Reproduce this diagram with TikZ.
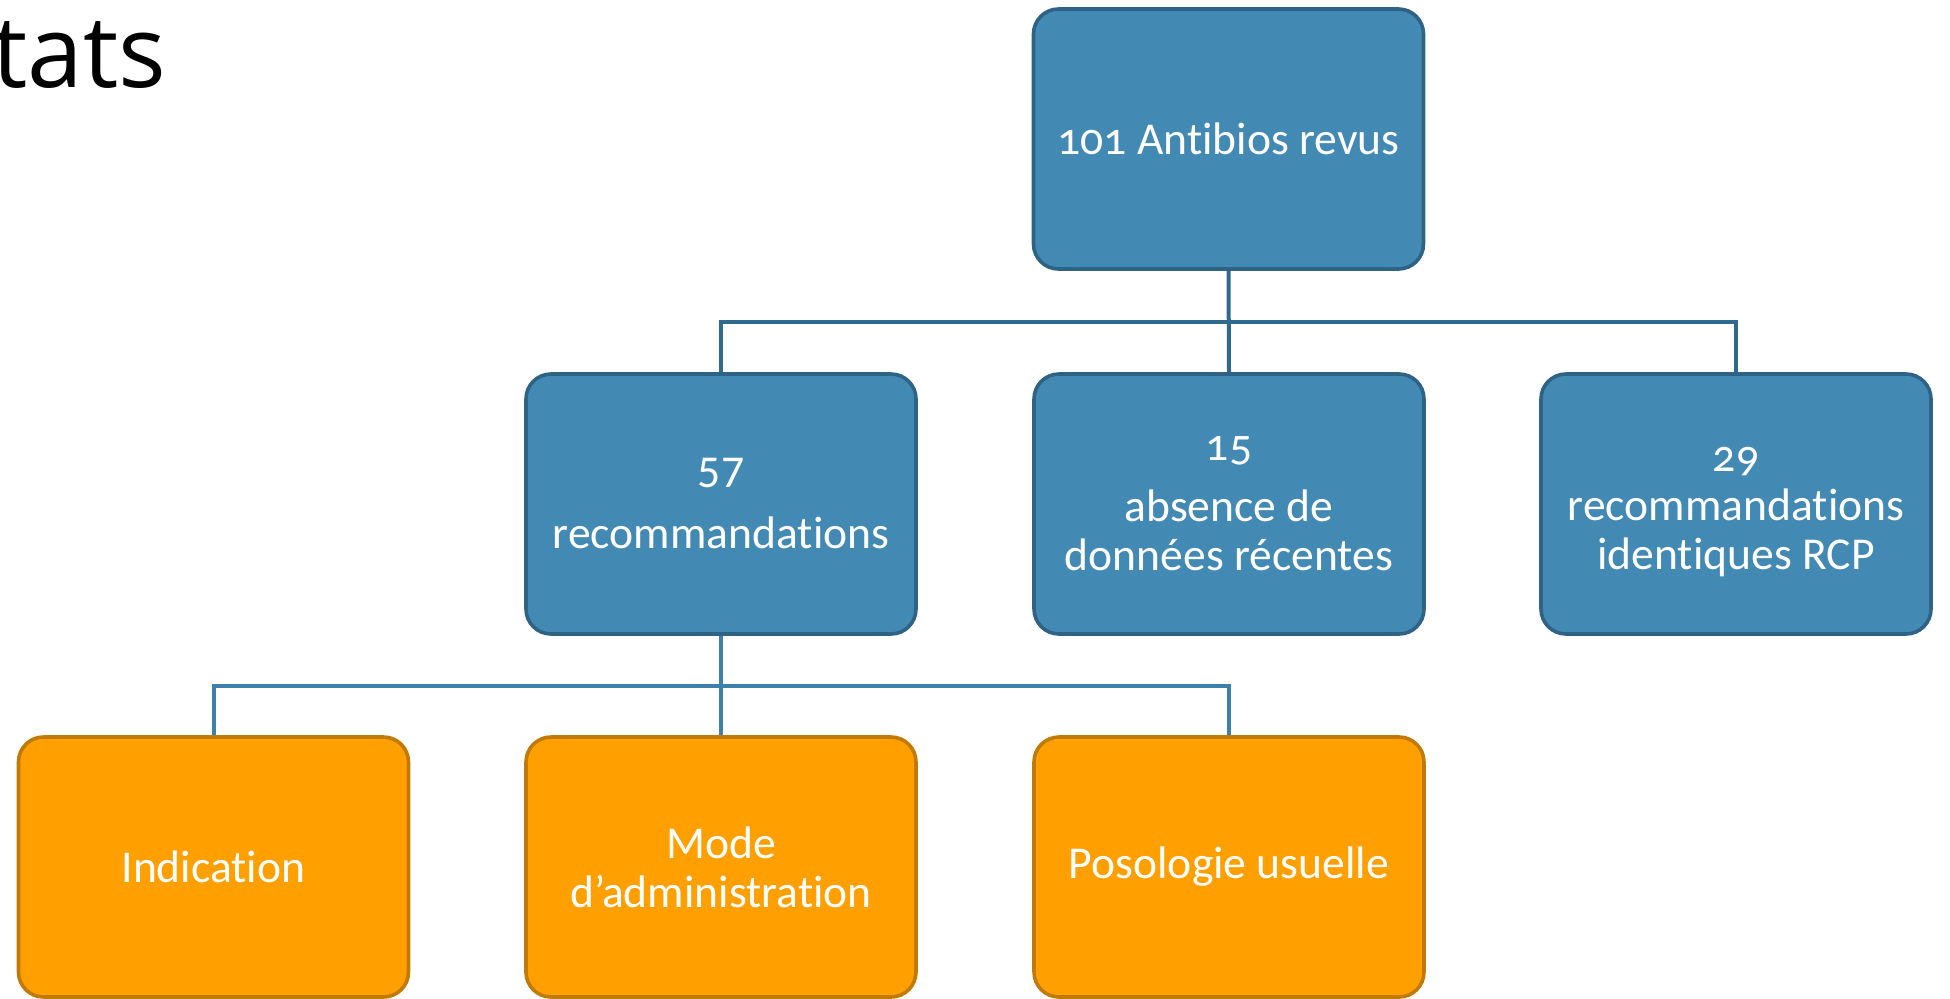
\documentclass[tikz,border=0pt]{standalone}
\usepackage{fontspec}
\setmainfont[Ligatures={NoCommon,NoContextual,NoRare}]{Carlito}
\newfontfamily\onumfont[Numbers=OldStyle,Ligatures={NoCommon,NoContextual,NoRare}]{Carlito}
\newfontfamily\titlefont{Open Sans}
\usetikzlibrary{calc}
\definecolor{bfill}{HTML}{428AB4}
\definecolor{bdraw}{HTML}{2F6386}
\definecolor{ofill}{HTML}{FF9F00}
\definecolor{odraw}{HTML}{C27A06}
\definecolor{lineA}{HTML}{2F6A8E}
\definecolor{lineB}{HTML}{3F80AA}
\tikzset{
  card/.style={rounded corners=12.5pt, line width=1.8pt, minimum width=195pt, minimum height=130pt,
    inner sep=0pt, align=center, text=white, font=\fontsize{22.8}{24.5}\selectfont},
  bluecard/.style={card, fill=bfill, draw=bdraw},
  orangecard/.style={card, fill=ofill, draw=odraw},
  linkA/.style={draw=lineA, line width=2pt},
  linkB/.style={draw=lineB, line width=2pt}
}
\begin{document}
\begin{tikzpicture}[x=0.5pt,y=-0.5pt]
\useasboundingbox (0,0) rectangle (1950,998);
\node[anchor=base west, inner sep=0pt, font=\titlefont\fontsize{50}{60}\selectfont] (title) at (-8,87) {tats};

\coordinate (h1) at (1229,322);
\coordinate (h2) at (721,686);

\node[bluecard] (top) at (1228.5,139) {{\onumfont 101} Antibios revus};
\node[bluecard] (m57) at (721,504) {57\\[6pt]recommandations};
\node[bluecard] (m15) at (1229,504) {{\onumfont 15}\\[6pt]absence de\\données récentes};
\node[bluecard] (m29) at (1736,504) {\rule{0pt}{20pt}{\onumfont 29}\\recommandations\\identiques RCP};

\node[orangecard] (o1) at (213.5,867) {Indication};
\node[orangecard] (o2) at (721,867) {Mode\\d’administration};
\node[orangecard] (o3) at (1229,867) {Posologie usuelle};

\draw[linkA] (top.south) -- (m15.north);
\draw[linkA] (m57.north) |- (h1) -| (m29.north);
\draw[linkB] (m57.south) -- (o2.north);
\draw[linkB] (o1.north) |- (h2) -| (o3.north);
\end{tikzpicture}
\end{document}
